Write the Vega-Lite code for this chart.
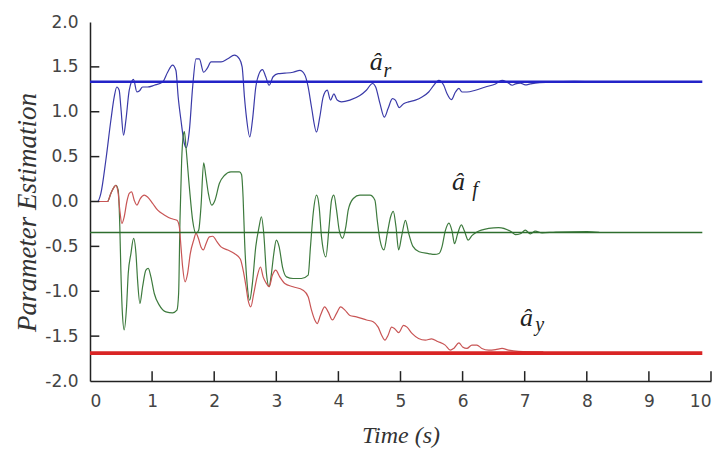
{
  "$schema": "https://vega.github.io/schema/vega-lite/v6.json",
  "width": 621,
  "height": 359,
  "autosize": {"type": "none"},
  "padding": {"left": 90, "top": 22, "right": 1, "bottom": 71},
  "background": "white",
  "config": {
    "view": {"stroke": null},
    "locale": {"number": {"decimal": ".", "thousands": ",", "grouping": [3], "currency": ["$", ""], "minus": "-"}},
    "axis": {
      "grid": false,
      "ticks": false,
      "domainColor": "#222222",
      "domainWidth": 1.5,
      "labelFont": "DejaVu Sans",
      "labelFontSize": 17,
      "labelColor": "#444444",
      "labelOverlap": false,
      "titleFont": "Liberation Serif",
      "titleFontStyle": "italic",
      "titleFontWeight": "normal",
      "titleColor": "#333333"
    }
  },
  "datasets": {
    "curves": [
      {"s":"b","t":0,"v":0},{"s":"b","t":0.12,"v":0},{"s":"b","t":0.175,"v":0.09},{"s":"b","t":0.255,"v":0.46},{"s":"b","t":0.336,"v":0.905},{"s":"b","t":0.39,"v":1.165},{"s":"b","t":0.432,"v":1.276},{"s":"b","t":0.47,"v":1.24},{"s":"b","t":0.497,"v":1.05},{"s":"b","t":0.54,"v":0.738},{"s":"b","t":0.578,"v":0.905},{"s":"b","t":0.632,"v":1.24},{"s":"b","t":0.7,"v":1.36},{"s":"b","t":0.755,"v":1.22},{"s":"b","t":0.793,"v":1.23},{"s":"b","t":0.847,"v":1.276},{"s":"b","t":0.927,"v":1.276},{"s":"b","t":1.035,"v":1.295},{"s":"b","t":1.169,"v":1.33},{"s":"b","t":1.25,"v":1.44},{"s":"b","t":1.33,"v":1.52},{"s":"b","t":1.384,"v":1.46},{"s":"b","t":1.42,"v":1.165},{"s":"b","t":1.465,"v":0.905},{"s":"b","t":1.519,"v":0.646},{"s":"b","t":1.55,"v":0.6},{"s":"b","t":1.6,"v":0.79},{"s":"b","t":1.653,"v":1.276},{"s":"b","t":1.707,"v":1.59},{"s":"b","t":1.76,"v":1.59},{"s":"b","t":1.83,"v":1.44},{"s":"b","t":1.884,"v":1.48},{"s":"b","t":1.95,"v":1.555},{"s":"b","t":2.11,"v":1.555},{"s":"b","t":2.218,"v":1.59},{"s":"b","t":2.325,"v":1.63},{"s":"b","t":2.406,"v":1.59},{"s":"b","t":2.45,"v":1.5},{"s":"b","t":2.487,"v":1.165},{"s":"b","t":2.519,"v":0.94},{"s":"b","t":2.573,"v":0.72},{"s":"b","t":2.616,"v":0.905},{"s":"b","t":2.67,"v":1.276},{"s":"b","t":2.723,"v":1.425},{"s":"b","t":2.777,"v":1.47},{"s":"b","t":2.83,"v":1.39},{"s":"b","t":2.884,"v":1.295},{"s":"b","t":2.948,"v":1.39},{"s":"b","t":3.03,"v":1.425},{"s":"b","t":3.137,"v":1.43},{"s":"b","t":3.27,"v":1.44},{"s":"b","t":3.38,"v":1.46},{"s":"b","t":3.46,"v":1.41},{"s":"b","t":3.513,"v":1.276},{"s":"b","t":3.567,"v":1.05},{"s":"b","t":3.648,"v":0.775},{"s":"b","t":3.7,"v":0.94},{"s":"b","t":3.755,"v":1.165},{"s":"b","t":3.82,"v":1.24},{"s":"b","t":3.873,"v":1.13},{"s":"b","t":3.927,"v":1.2},{"s":"b","t":3.98,"v":1.13},{"s":"b","t":4.05,"v":1.11},{"s":"b","t":4.185,"v":1.13},{"s":"b","t":4.346,"v":1.18},{"s":"b","t":4.45,"v":1.24},{"s":"b","t":4.55,"v":1.315},{"s":"b","t":4.6,"v":1.276},{"s":"b","t":4.67,"v":1.09},{"s":"b","t":4.74,"v":0.94},{"s":"b","t":4.8,"v":1.035},{"s":"b","t":4.87,"v":1.147},{"s":"b","t":4.917,"v":1.13},{"s":"b","t":4.98,"v":1.047},{"s":"b","t":5.05,"v":1.09},{"s":"b","t":5.13,"v":1.11},{"s":"b","t":5.24,"v":1.13},{"s":"b","t":5.347,"v":1.165},{"s":"b","t":5.454,"v":1.22},{"s":"b","t":5.535,"v":1.295},{"s":"b","t":5.616,"v":1.35},{"s":"b","t":5.696,"v":1.295},{"s":"b","t":5.75,"v":1.2},{"s":"b","t":5.82,"v":1.135},{"s":"b","t":5.885,"v":1.22},{"s":"b","t":5.94,"v":1.26},{"s":"b","t":5.99,"v":1.22},{"s":"b","t":6.07,"v":1.22},{"s":"b","t":6.206,"v":1.24},{"s":"b","t":6.367,"v":1.276},{"s":"b","t":6.53,"v":1.31},{"s":"b","t":6.635,"v":1.35},{"s":"b","t":6.716,"v":1.33},{"s":"b","t":6.8,"v":1.295},{"s":"b","t":6.85,"v":1.31},{"s":"b","t":6.93,"v":1.32},{"s":"b","t":7.01,"v":1.3},{"s":"b","t":7.09,"v":1.31},{"s":"b","t":7.17,"v":1.32},{"s":"b","t":7.4,"v":1.33},{"s":"b","t":7.8,"v":1.338},{"s":"b","t":8.3,"v":1.33},{"s":"b","t":8.8,"v":1.333},
      {"s":"g","t":0,"v":0},{"s":"g","t":0.282,"v":0},{"s":"g","t":0.336,"v":0.09},{"s":"g","t":0.417,"v":0.18},{"s":"g","t":0.454,"v":0.126},{"s":"g","t":0.48,"v":-0.28},{"s":"g","t":0.497,"v":-0.765},{"s":"g","t":0.519,"v":-1.21},{"s":"g","t":0.551,"v":-1.43},{"s":"g","t":0.589,"v":-1.17},{"s":"g","t":0.616,"v":-0.8},{"s":"g","t":0.659,"v":-0.58},{"s":"g","t":0.702,"v":-0.41},{"s":"g","t":0.74,"v":-0.58},{"s":"g","t":0.766,"v":-0.876},{"s":"g","t":0.804,"v":-1.136},{"s":"g","t":0.847,"v":-0.95},{"s":"g","t":0.9,"v":-0.765},{"s":"g","t":0.938,"v":-0.746},{"s":"g","t":0.981,"v":-0.84},{"s":"g","t":1.035,"v":-1.025},{"s":"g","t":1.116,"v":-1.155},{"s":"g","t":1.223,"v":-1.23},{"s":"g","t":1.33,"v":-1.24},{"s":"g","t":1.4,"v":-1.21},{"s":"g","t":1.427,"v":-1.025},{"s":"g","t":1.449,"v":-0.21},{"s":"g","t":1.476,"v":0.46},{"s":"g","t":1.503,"v":0.74},{"s":"g","t":1.52,"v":0.78},{"s":"g","t":1.545,"v":0.61},{"s":"g","t":1.6,"v":0.16},{"s":"g","t":1.653,"v":-0.21},{"s":"g","t":1.707,"v":-0.356},{"s":"g","t":1.75,"v":-0.32},{"s":"g","t":1.787,"v":-0.06},{"s":"g","t":1.83,"v":0.43},{"s":"g","t":1.868,"v":0.27},{"s":"g","t":1.906,"v":0.09},{"s":"g","t":1.96,"v":-0.04},{"s":"g","t":2.013,"v":0.015},{"s":"g","t":2.083,"v":0.2},{"s":"g","t":2.164,"v":0.29},{"s":"g","t":2.27,"v":0.33},{"s":"g","t":2.406,"v":0.33},{"s":"g","t":2.44,"v":0.3},{"s":"g","t":2.465,"v":0.05},{"s":"g","t":2.49,"v":-0.45},{"s":"g","t":2.53,"v":-0.913},{"s":"g","t":2.572,"v":-1.1},{"s":"g","t":2.615,"v":-0.913},{"s":"g","t":2.669,"v":-0.506},{"s":"g","t":2.723,"v":-0.28},{"s":"g","t":2.76,"v":-0.17},{"s":"g","t":2.798,"v":-0.356},{"s":"g","t":2.841,"v":-0.8},{"s":"g","t":2.884,"v":-0.95},{"s":"g","t":2.922,"v":-0.8},{"s":"g","t":2.96,"v":-0.58},{"s":"g","t":3.0,"v":-0.43},{"s":"g","t":3.046,"v":-0.506},{"s":"g","t":3.1,"v":-0.73},{"s":"g","t":3.164,"v":-0.84},{"s":"g","t":3.27,"v":-0.858},{"s":"g","t":3.405,"v":-0.858},{"s":"g","t":3.513,"v":-0.82},{"s":"g","t":3.55,"v":-0.506},{"s":"g","t":3.594,"v":-0.134},{"s":"g","t":3.648,"v":0.07},{"s":"g","t":3.69,"v":-0.06},{"s":"g","t":3.728,"v":-0.394},{"s":"g","t":3.798,"v":-0.617},{"s":"g","t":3.85,"v":-0.28},{"s":"g","t":3.89,"v":0.015},{"s":"g","t":3.927,"v":0.07},{"s":"g","t":3.97,"v":-0.097},{"s":"g","t":4.013,"v":-0.32},{"s":"g","t":4.067,"v":-0.41},{"s":"g","t":4.12,"v":-0.28},{"s":"g","t":4.158,"v":-0.097},{"s":"g","t":4.24,"v":0.033},{"s":"g","t":4.346,"v":0.07},{"s":"g","t":4.508,"v":0.07},{"s":"g","t":4.588,"v":0.015},{"s":"g","t":4.626,"v":-0.21},{"s":"g","t":4.67,"v":-0.43},{"s":"g","t":4.733,"v":-0.54},{"s":"g","t":4.787,"v":-0.356},{"s":"g","t":4.841,"v":-0.17},{"s":"g","t":4.884,"v":-0.11},{"s":"g","t":4.927,"v":-0.28},{"s":"g","t":4.97,"v":-0.54},{"s":"g","t":5.02,"v":-0.38},{"s":"g","t":5.08,"v":-0.21},{"s":"g","t":5.13,"v":-0.35},{"s":"g","t":5.2,"v":-0.5},{"s":"g","t":5.3,"v":-0.56},{"s":"g","t":5.45,"v":-0.58},{"s":"g","t":5.55,"v":-0.59},{"s":"g","t":5.62,"v":-0.58},{"s":"g","t":5.67,"v":-0.5},{"s":"g","t":5.72,"v":-0.33},{"s":"g","t":5.78,"v":-0.24},{"s":"g","t":5.83,"v":-0.33},{"s":"g","t":5.87,"v":-0.47},{"s":"g","t":5.92,"v":-0.36},{"s":"g","t":5.98,"v":-0.26},{"s":"g","t":6.03,"v":-0.33},{"s":"g","t":6.09,"v":-0.43},{"s":"g","t":6.15,"v":-0.38},{"s":"g","t":6.23,"v":-0.34},{"s":"g","t":6.42,"v":-0.3},{"s":"g","t":6.58,"v":-0.29},{"s":"g","t":6.79,"v":-0.34},{"s":"g","t":6.85,"v":-0.37},{"s":"g","t":6.93,"v":-0.36},{"s":"g","t":7.01,"v":-0.32},{"s":"g","t":7.09,"v":-0.36},{"s":"g","t":7.17,"v":-0.33},{"s":"g","t":7.28,"v":-0.35},{"s":"g","t":7.5,"v":-0.34},{"s":"g","t":8.0,"v":-0.335},{"s":"g","t":8.2,"v":-0.345},
      {"s":"r","t":0,"v":0},{"s":"r","t":0.282,"v":0},{"s":"r","t":0.336,"v":0.09},{"s":"r","t":0.417,"v":0.18},{"s":"r","t":0.454,"v":0.09},{"s":"r","t":0.48,"v":-0.097},{"s":"r","t":0.513,"v":-0.245},{"s":"r","t":0.551,"v":-0.17},{"s":"r","t":0.594,"v":0.0},{"s":"r","t":0.632,"v":0.09},{"s":"r","t":0.67,"v":0.107},{"s":"r","t":0.712,"v":0.015},{"s":"r","t":0.755,"v":-0.04},{"s":"r","t":0.81,"v":0.033},{"s":"r","t":0.874,"v":0.07},{"s":"r","t":0.927,"v":0.05},{"s":"r","t":1.008,"v":-0.02},{"s":"r","t":1.09,"v":-0.097},{"s":"r","t":1.196,"v":-0.15},{"s":"r","t":1.304,"v":-0.19},{"s":"r","t":1.4,"v":-0.21},{"s":"r","t":1.438,"v":-0.28},{"s":"r","t":1.465,"v":-0.506},{"s":"r","t":1.492,"v":-0.73},{"s":"r","t":1.53,"v":-0.895},{"s":"r","t":1.572,"v":-0.8},{"s":"r","t":1.615,"v":-0.58},{"s":"r","t":1.67,"v":-0.43},{"s":"r","t":1.707,"v":-0.356},{"s":"r","t":1.745,"v":-0.41},{"s":"r","t":1.787,"v":-0.506},{"s":"r","t":1.825,"v":-0.54},{"s":"r","t":1.868,"v":-0.47},{"s":"r","t":1.922,"v":-0.394},{"s":"r","t":1.976,"v":-0.387},{"s":"r","t":2.046,"v":-0.45},{"s":"r","t":2.11,"v":-0.506},{"s":"r","t":2.218,"v":-0.54},{"s":"r","t":2.325,"v":-0.58},{"s":"r","t":2.42,"v":-0.64},{"s":"r","t":2.476,"v":-0.8},{"s":"r","t":2.513,"v":-0.95},{"s":"r","t":2.546,"v":-1.1},{"s":"r","t":2.589,"v":-1.174},{"s":"r","t":2.637,"v":-1.025},{"s":"r","t":2.691,"v":-0.84},{"s":"r","t":2.745,"v":-0.73},{"s":"r","t":2.788,"v":-0.84},{"s":"r","t":2.841,"v":-0.913},{"s":"r","t":2.884,"v":-0.95},{"s":"r","t":2.938,"v":-0.82},{"s":"r","t":2.99,"v":-0.765},{"s":"r","t":3.056,"v":-0.84},{"s":"r","t":3.137,"v":-0.913},{"s":"r","t":3.27,"v":-0.95},{"s":"r","t":3.43,"v":-0.988},{"s":"r","t":3.513,"v":-1.062},{"s":"r","t":3.567,"v":-1.21},{"s":"r","t":3.62,"v":-1.32},{"s":"r","t":3.658,"v":-1.36},{"s":"r","t":3.71,"v":-1.27},{"s":"r","t":3.78,"v":-1.174},{"s":"r","t":3.835,"v":-1.23},{"s":"r","t":3.905,"v":-1.32},{"s":"r","t":3.97,"v":-1.247},{"s":"r","t":4.035,"v":-1.174},{"s":"r","t":4.105,"v":-1.21},{"s":"r","t":4.185,"v":-1.27},{"s":"r","t":4.29,"v":-1.285},{"s":"r","t":4.454,"v":-1.32},{"s":"r","t":4.56,"v":-1.34},{"s":"r","t":4.64,"v":-1.4},{"s":"r","t":4.696,"v":-1.49},{"s":"r","t":4.75,"v":-1.545},{"s":"r","t":4.8,"v":-1.49},{"s":"r","t":4.857,"v":-1.4},{"s":"r","t":4.91,"v":-1.42},{"s":"r","t":4.97,"v":-1.46},{"s":"r","t":5.05,"v":-1.38},{"s":"r","t":5.105,"v":-1.4},{"s":"r","t":5.185,"v":-1.47},{"s":"r","t":5.29,"v":-1.526},{"s":"r","t":5.4,"v":-1.545},{"s":"r","t":5.5,"v":-1.53},{"s":"r","t":5.6,"v":-1.56},{"s":"r","t":5.72,"v":-1.6},{"s":"r","t":5.803,"v":-1.656},{"s":"r","t":5.857,"v":-1.637},{"s":"r","t":5.94,"v":-1.575},{"s":"r","t":6.0,"v":-1.62},{"s":"r","t":6.07,"v":-1.637},{"s":"r","t":6.15,"v":-1.6},{"s":"r","t":6.23,"v":-1.6},{"s":"r","t":6.31,"v":-1.637},{"s":"r","t":6.42,"v":-1.656},{"s":"r","t":6.53,"v":-1.65},{"s":"r","t":6.635,"v":-1.637},{"s":"r","t":6.74,"v":-1.656},{"s":"r","t":6.9,"v":-1.67},{"s":"r","t":7.3,"v":-1.675}
    ],
    "refs": [
      {"s":"b","t0":0,"t1":9.86,"v":1.333},
      {"s":"g","t0":0,"t1":9.86,"v":-0.345},
      {"s":"r","t0":0,"t1":9.86,"v":-1.69}
    ],
    "xticks": [{"t":1},{"t":2},{"t":3},{"t":4},{"t":5},{"t":6},{"t":7},{"t":8},{"t":9},{"t":10}],
    "yticks": [{"v":-1.5},{"v":-1},{"v":-0.5},{"v":0},{"v":0.5},{"v":1},{"v":1.5}],
    "hats": [
      {"t":4.61,"v":1.46,"txt":"â"},
      {"t":5.935,"v":0.124,"txt":"â"},
      {"t":7.03,"v":-1.39,"txt":"â"}
    ],
    "subs": [
      {"t":4.79,"v":1.39,"txt":"r"},
      {"t":6.2,"v":0.06,"txt":"f"},
      {"t":7.24,"v":-1.445,"txt":"y"}
    ]
  },
  "layer": [
    {
      "data": {"name": "curves"},
      "mark": {"type": "line", "strokeWidth": 1.2, "interpolate": "monotone"},
      "encoding": {
        "x": {
          "field": "t", "type": "quantitative",
          "scale": {"domain": [0, 10], "nice": false, "zero": false},
          "axis": {
            "values": [0,1,2,3,4,5,6,7,8,9,10],
            "format": "d",
            "labelPadding": 12,
            "labelFlush": true,
            "title": "Time (s)",
            "titleFontSize": 24,
            "titleBaseline": "alphabetic",
            "titleY": 61
          }
        },
        "y": {
          "field": "v", "type": "quantitative",
          "scale": {"domain": [-2, 2], "nice": false, "zero": false},
          "axis": {
            "values": [-2,-1.5,-1,-0.5,0,0.5,1,1.5,2],
            "format": ".1f",
            "labelPadding": 12,
            "labelFlush": false,
            "title": "Parameter Estimation",
            "titleFontSize": 27,
            "titleBaseline": "alphabetic",
            "titleX": -55,
            "titleY": 190
          }
        },
        "color": {
          "field": "s", "type": "nominal",
          "scale": {"domain": ["b","g","r"], "range": ["#3a3aa8","#3d7a3d","#c85555"]},
          "legend": null
        }
      }
    },
    {
      "data": {"name": "xticks"},
      "mark": {"type": "rule", "color": "#222222", "strokeWidth": 1.5},
      "encoding": {
        "x": {"field": "t", "type": "quantitative"},
        "y": {"datum": -2},
        "y2": {"datum": -1.89}
      }
    },
    {
      "data": {"name": "yticks"},
      "mark": {"type": "rule", "color": "#222222", "strokeWidth": 1.5},
      "encoding": {
        "y": {"field": "v", "type": "quantitative"},
        "x": {"datum": 0},
        "x2": {"datum": 0.15}
      }
    },
    {
      "data": {"name": "refs"},
      "transform": [{"filter": "datum.s == 'b'"}],
      "mark": {"type": "rule", "color": "#2323c8", "strokeWidth": 2.5},
      "encoding": {
        "x": {"field": "t0", "type": "quantitative"},
        "x2": {"field": "t1"},
        "y": {"field": "v", "type": "quantitative"}
      }
    },
    {
      "data": {"name": "refs"},
      "transform": [{"filter": "datum.s == 'g'"}],
      "mark": {"type": "rule", "color": "#2e6e2e", "strokeWidth": 1.6},
      "encoding": {
        "x": {"field": "t0", "type": "quantitative"},
        "x2": {"field": "t1"},
        "y": {"field": "v", "type": "quantitative"}
      }
    },
    {
      "data": {"name": "refs"},
      "transform": [{"filter": "datum.s == 'r'"}],
      "mark": {"type": "rule", "color": "#d92424", "strokeWidth": 3.8},
      "encoding": {
        "x": {"field": "t0", "type": "quantitative"},
        "x2": {"field": "t1"},
        "y": {"field": "v", "type": "quantitative"}
      }
    },
    {
      "data": {"name": "hats"},
      "mark": {"type": "text", "font": "Liberation Serif", "fontStyle": "italic", "fontSize": 26, "align": "center", "baseline": "alphabetic", "color": "#222222"},
      "encoding": {
        "x": {"field": "t", "type": "quantitative"},
        "y": {"field": "v", "type": "quantitative"},
        "text": {"field": "txt"}
      }
    },
    {
      "data": {"name": "subs"},
      "mark": {"type": "text", "font": "Liberation Serif", "fontStyle": "italic", "fontSize": 20, "align": "center", "baseline": "alphabetic", "color": "#222222"},
      "encoding": {
        "x": {"field": "t", "type": "quantitative"},
        "y": {"field": "v", "type": "quantitative"},
        "text": {"field": "txt"}
      }
    }
  ]
}
